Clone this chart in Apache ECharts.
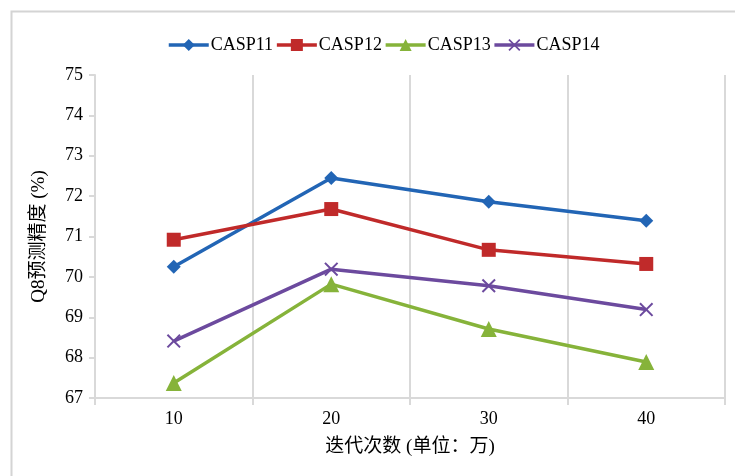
<!DOCTYPE html>
<html>
<head>
<meta charset="utf-8">
<script src="https://cdn.jsdelivr.net/npm/echarts@6/dist/echarts.min.js"></script>
<style>
  html, body { margin: 0; padding: 0; background: #fff; }
  #main { width: 735px; height: 476px; }
</style>
</head>
<body>
<div id="main"></div>
<script>
// 迭代次数 vs Q8 预测精度
var categories = ['10', '20', '30', '40'];
var casp11 = [70.25, 72.45, 71.86, 71.39];
var casp12 = [70.92, 71.68, 70.67, 70.32];
var casp13 = [67.37, 69.82, 68.71, 67.89];
var casp14 = [68.41, 70.19, 69.78, 69.19];
var seriesNames = ['CASP11', 'CASP12', 'CASP13', 'CASP14'];

var serif = '"Liberation Serif", "Noto Sans CJK SC", serif';
var crossPath = 'path://M0,1L1,0L5,4L9,0L10,1L6,5L10,9L9,10L5,6L1,10L0,9L4,5Z';

var myChart = echarts.init(document.getElementById('main'));

function makeSeries(name, data, color, symbol, size) {
    return {
        name: name,
        type: 'line',
        data: data,
        symbol: symbol,
        symbolSize: size,
        showAllSymbol: true,
        lineStyle: { color: color, width: 3.5 },
        itemStyle: { color: color },
        emphasis: { disabled: true },
        animation: false
    };
}

var option = {
    backgroundColor: '#fff',
    textStyle: { fontFamily: serif },
    graphic: [{
        type: 'rect',
        shape: { x: 11.5, y: 11.5, width: 740, height: 480 },
        style: { fill: 'none', stroke: '#d4d4d4', lineWidth: 2 },
        silent: true
    }],
    legend: {
        data: seriesNames,
        top: 31,
        left: 162,
        itemWidth: 40,
        itemHeight: 15,
        itemGap: 2,
        lineStyle: { width: 3.5 },
        textStyle: { fontFamily: serif, fontSize: 18, color: '#000', padding: [0, 0, 0, -3] }
    },
    grid: { left: 95, right: 10, top: 75, bottom: 78 },
    xAxis: {
        type: 'category',
        data: categories,
        boundaryGap: true,
        name: '迭代次数 (单位：万)',
        nameLocation: 'middle',
        nameGap: 40,
        nameTextStyle: { fontFamily: serif, fontSize: 19, color: '#000' },
        axisLine: { lineStyle: { color: '#d9d9d9', width: 2 } },
        axisTick: { show: true, length: 7, lineStyle: { color: '#d9d9d9', width: 2 } },
        axisLabel: { fontFamily: serif, fontSize: 18, color: '#000', margin: 12 },
        splitLine: { show: true, lineStyle: { color: '#d9d9d9', width: 2 } }
    },
    yAxis: {
        type: 'value',
        min: 67,
        max: 75,
        interval: 1,
        name: 'Q8预测精度 (%)',
        nameLocation: 'middle',
        nameGap: 46,
        nameRotate: 90,
        nameTextStyle: { fontFamily: serif, fontSize: 19, color: '#000' },
        axisLine: { show: true, lineStyle: { color: '#d9d9d9', width: 2 } },
        axisTick: { show: true, length: 6, lineStyle: { color: '#d9d9d9', width: 2 } },
        axisLabel: { fontFamily: serif, fontSize: 18, color: '#000', margin: 12 },
        splitLine: { show: false }
    },
    series: [
        makeSeries(seriesNames[0], casp11, '#2265b5', 'diamond', 14),
        makeSeries(seriesNames[1], casp12, '#c02a2a', 'rect', 14),
        makeSeries(seriesNames[2], casp13, '#86b33a', 'triangle', 16),
        makeSeries(seriesNames[3], casp14, '#6c4a9e', crossPath, 14)
    ]
};

myChart.setOption(option);
</script>
</body>
</html>
